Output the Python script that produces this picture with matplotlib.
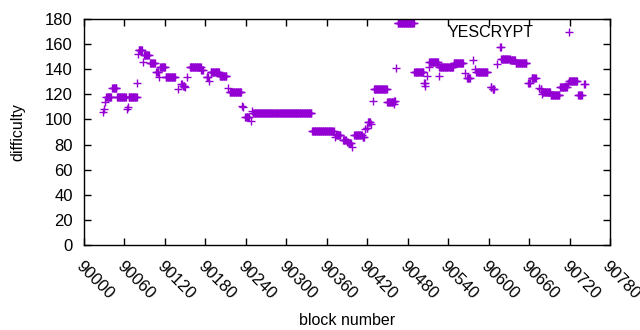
import numpy as np
import matplotlib
matplotlib.use("Agg")
import matplotlib.pyplot as plt

# runs of consecutive blocks sharing one difficulty value
seg_start = [90028, 90029, 90031, 90033, 90042, 90049, 90064, 90065, 90066, 90079,
             90080, 90081, 90088, 90089, 90098, 90107, 90111, 90113, 90121, 90139,
             90144, 90147, 90150, 90152, 90157, 90174, 90182, 90186, 90188, 90201,
             90213, 90216, 90235, 90236, 90239, 90247, 90249, 90251, 90338, 90372,
             90374, 90384, 90390, 90393, 90397, 90401, 90413, 90417, 90419, 90421,
             90425, 90428, 90430, 90450, 90459, 90460, 90463, 90465, 90490, 90504,
             90506, 90509, 90511, 90512, 90526, 90527, 90548, 90565, 90568, 90577,
             90580, 90582, 90603, 90606, 90613, 90617, 90619, 90632, 90640, 90659,
             90664, 90674, 90677, 90679, 90680, 90692, 90706, 90718, 90719, 90733,
             90742]
seg_end = [90028, 90029, 90031, 90040, 90048, 90062, 90064, 90065, 90078, 90079,
           90080, 90086, 90088, 90096, 90105, 90110, 90111, 90120, 90135, 90139,
           90145, 90149, 90150, 90152, 90173, 90176, 90184, 90186, 90200, 90211,
           90213, 90233, 90235, 90236, 90244, 90247, 90249, 90337, 90370, 90372,
           90380, 90388, 90391, 90396, 90397, 90412, 90415, 90417, 90420, 90424,
           90425, 90428, 90449, 90458, 90459, 90461, 90463, 90489, 90503, 90505,
           90506, 90509, 90511, 90525, 90526, 90547, 90562, 90565, 90572, 90577,
           90580, 90598, 90604, 90608, 90613, 90618, 90631, 90639, 90656, 90661,
           90670, 90674, 90678, 90679, 90691, 90705, 90716, 90718, 90731, 90738,
           90743]
seg_diff = [106, 108, 114, 118, 125, 118, 108, 110, 118, 129,
            152, 155, 146, 151, 145, 138, 134, 142, 134, 124,
            128, 127, 126, 134, 142, 139, 134, 131, 137.5, 135,
            125, 122, 111, 110, 102, 99, 107, 105, 91, 86,
            88, 84, 82, 81, 78, 88, 86, 92, 93, 98,
            96, 114.5, 124, 114, 112, 115, 141, 177, 138, 129,
            127, 135, 141.5, 146, 135, 141.5, 144.7, 137, 133, 147,
            140, 138, 126, 124, 144, 157.5, 148, 147, 145, 129,
            133, 125, 124, 120, 122, 119.5, 126, 129, 131, 119.5,
            128]

xticks = list(range(90000, 90781, 60))
yticks = list(range(0, 181, 20))

blocks = []
diffs = []
for s, e, d in zip(seg_start, seg_end, seg_diff):
    for b in range(s, e + 1):
        blocks.append(b)
        diffs.append(d)

plt.rcParams['font.family'] = ['Liberation Sans', 'DejaVu Sans']
plt.rcParams['font.size'] = 11

fig = plt.figure(figsize=(6.4, 3.3), dpi=100)
ax = fig.add_axes([84 / 640, 85 / 330, 526 / 640, 226 / 330])

ax.plot(blocks, diffs, linestyle='none', marker='+', markersize=5.5,
        markeredgewidth=1.0, color='#9400D3', label='YESCRYPT')

ax.set_xlim(90000, 90780)
ax.set_ylim(0, 180)
ax.set_xticks(xticks)
ax.set_yticks(yticks)
ax.set_xticklabels([str(t) for t in xticks], rotation=-45, ha='left',
                   va='top', rotation_mode='anchor', fontsize=12)
ax.set_yticklabels([str(t) for t in yticks], fontsize=12)
ax.tick_params(direction='in', length=5, width=1, top=True, right=True,
               pad=8, colors='black')
ax.tick_params(axis='x', pad=10)
for sp in ax.spines.values():
    sp.set_linewidth(1)

ax.set_xlabel('block number', labelpad=8, fontsize=11.5)
ax.set_ylabel('difficulty', labelpad=14, fontsize=11.5)

ax.legend(loc='upper right', frameon=False, markerfirst=False,
          handlelength=2, handletextpad=1.2, borderaxespad=0,
          bbox_to_anchor=(0.964, 1.0), fontsize=11.5)

fig.savefig('out.png', dpi=100)
